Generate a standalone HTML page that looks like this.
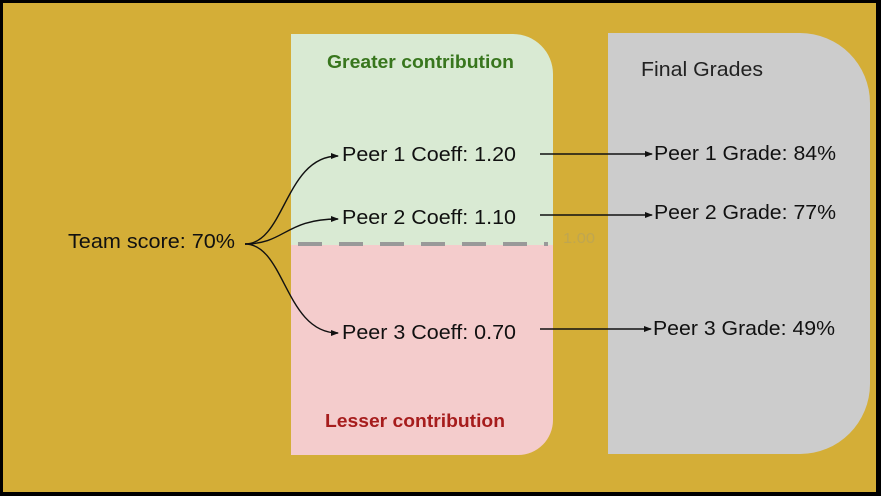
<!DOCTYPE html>
<html><head><meta charset="utf-8"><style>
html,body{margin:0;padding:0;background:#000;}
svg{display:block;}
text{font-family:"Liberation Sans",Arial,sans-serif;}
</style></head><body>
<svg width="881" height="496" viewBox="0 0 881 496" xmlns="http://www.w3.org/2000/svg">
<defs>
<marker id="a" markerWidth="8" markerHeight="6" refX="7" refY="3" orient="auto" markerUnits="userSpaceOnUse">
<path d="M0,0 L8,3 L0,6 z" fill="#111"/></marker>
<clipPath id="g"><path d="M291,34 H513 A40,40 0 0 1 553,74 V420 A35,35 0 0 1 518,455 H291 Z"/></clipPath>
</defs>
<rect x="0" y="0" width="881" height="496" fill="#000"/>
<rect x="3" y="3" width="873" height="489" fill="#d4ae37"/>
<g clip-path="url(#g)">
<rect x="291" y="34" width="262" height="211" fill="#d9ead3"/>
<rect x="291" y="245" width="262" height="211" fill="#f4cccc"/>
</g>
<path d="M608,33 H800 A70,70 0 0 1 870,103 V384 A70,70 0 0 1 800,454 H608 Z" fill="#cccccc"/>
<line x1="298" y1="244" x2="548" y2="244" stroke="#999" stroke-width="4" stroke-dasharray="24 17"/>
<text x="563" y="243" font-size="15" fill="#bfa650" textLength="32" lengthAdjust="spacingAndGlyphs">1.00</text>
<text x="327" y="68" font-size="18" font-weight="bold" fill="#38761d" textLength="187" lengthAdjust="spacingAndGlyphs">Greater contribution</text>
<text x="325" y="427" font-size="18" font-weight="bold" fill="#a61c1c" textLength="180" lengthAdjust="spacingAndGlyphs">Lesser contribution</text>
<text x="641" y="76" font-size="20" fill="#222" textLength="122" lengthAdjust="spacingAndGlyphs">Final Grades</text>
<text x="68" y="248" font-size="20" fill="#111" textLength="167" lengthAdjust="spacingAndGlyphs">Team score: 70%</text>
<text x="342" y="161" font-size="20" fill="#111" textLength="174" lengthAdjust="spacingAndGlyphs">Peer 1 Coeff: 1.20</text>
<text x="342" y="224" font-size="20" fill="#111" textLength="174" lengthAdjust="spacingAndGlyphs">Peer 2 Coeff: 1.10</text>
<text x="342" y="339" font-size="20" fill="#111" textLength="174" lengthAdjust="spacingAndGlyphs">Peer 3 Coeff: 0.70</text>
<text x="654" y="160" font-size="20" fill="#111" textLength="182" lengthAdjust="spacingAndGlyphs">Peer 1 Grade: 84%</text>
<text x="654" y="219" font-size="20" fill="#111" textLength="182" lengthAdjust="spacingAndGlyphs">Peer 2 Grade: 77%</text>
<text x="653" y="335" font-size="20" fill="#111" textLength="182" lengthAdjust="spacingAndGlyphs">Peer 3 Grade: 49%</text>
<g fill="none" stroke="#111" stroke-width="1.4">
<path d="M245,244 C285,244 285,156 338,156" marker-end="url(#a)"/>
<path d="M245,244 C285,244 285,219 338,219" marker-end="url(#a)"/>
<path d="M245,244 C285,244 285,333 338,333" marker-end="url(#a)"/>
<line x1="540" y1="154" x2="652" y2="154" marker-end="url(#a)"/>
<line x1="540" y1="215" x2="652" y2="215" marker-end="url(#a)"/>
<line x1="540" y1="329" x2="651" y2="329" marker-end="url(#a)"/>
</g>
</svg>
</body></html>
